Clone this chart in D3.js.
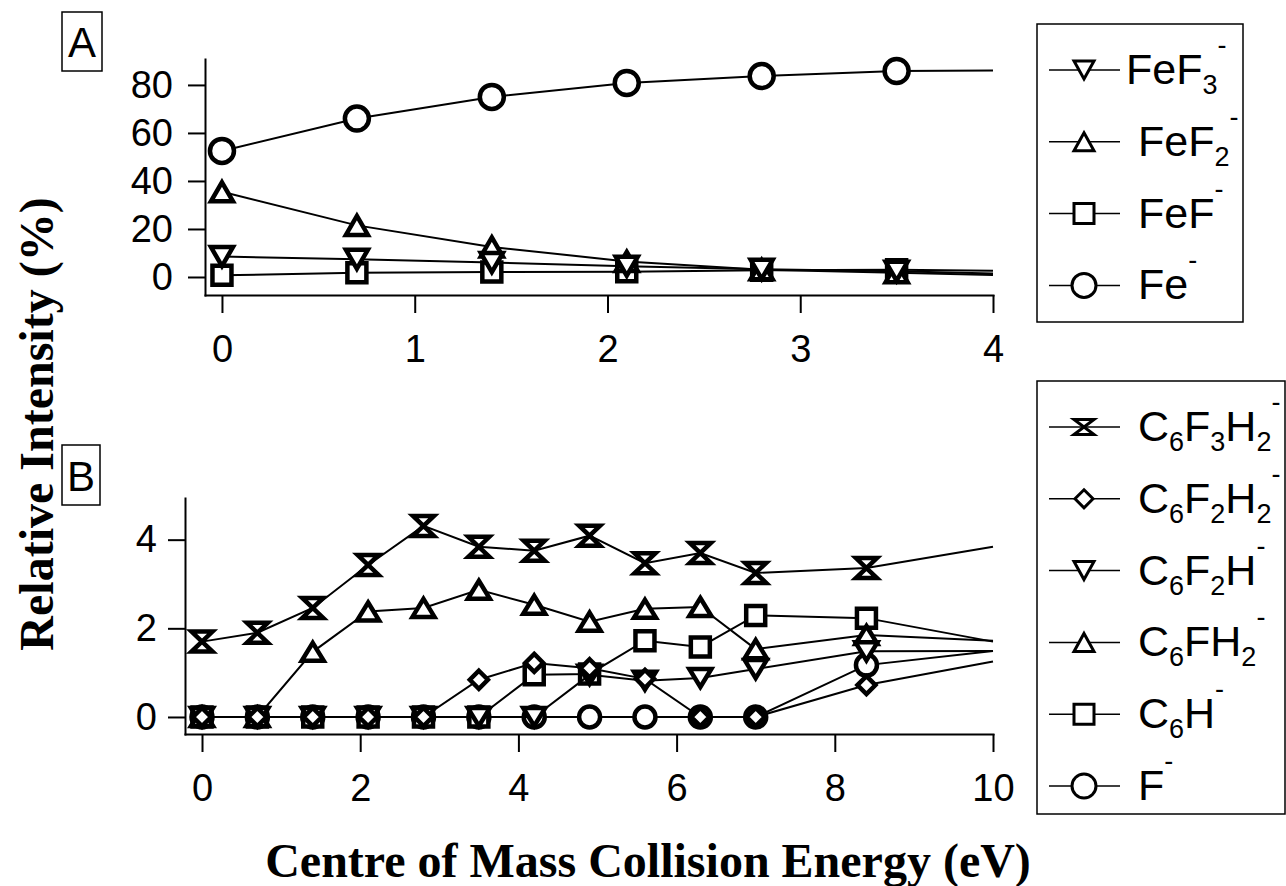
<!DOCTYPE html>
<html>
<head>
<meta charset="utf-8">
<script src="https://cdn.jsdelivr.net/npm/d3@7"></script>
<style>
    body { margin: 0; background: #fff; }
    svg { display: block; }
    .axis path, .axis line { stroke: #000; stroke-width: 2; }
    .axis text { font-family: "Liberation Sans", Arial, sans-serif; font-size: 38px; fill: #000; }
    .title { font-family: "Liberation Serif", "Times New Roman", serif; font-weight: bold; font-size: 48px; fill: #000; }
    .panel-label { font-family: "Liberation Sans", Arial, sans-serif; font-size: 42px; fill: #000; }
    .legend text { font-family: "Liberation Sans", Arial, sans-serif; font-size: 43px; fill: #000; white-space: pre; }
</style>
</head>
<body>
<script>
// panel A : iron anions (last value is where the line leaves the axis, no marker)
var energyA = [0, 0.7, 1.4, 2.1, 2.8, 3.5, 4];
var feMinus = [52.5, 66, 75, 80.8, 83.7, 85.8, 86];
var fefMinus = [0.7, 1.8, 2.1, 2.2, 2.8, 3.0, 2.6];
var fef2Minus = [35.5, 21.5, 12.5, 6.5, 3.0, 1.8, 0.8];
var fef3Minus = [8.5, 7.4, 6.0, 4.5, 3.2, 2.4, 1.5];

// panel B : fluorobenzene fragments
var energyB = [0, 0.7, 1.4, 2.1, 2.8, 3.5, 4.2, 4.9, 5.6, 6.3, 7.0, 8.4, 10];
var c6f3h2 = [1.70, 1.90, 2.46, 3.43, 4.31, 3.84, 3.75, 4.09, 3.47, 3.70, 3.25, 3.36, 3.84];
var c6f2h2 = [0, 0, 0, 0, 0, 0.84, 1.22, 1.10, 0.86, 0, 0, 0.72, 1.25];
var c6f2h = [0, 0, 0, 0, 0, 0, 0, 0.95, 0.82, 0.88, 1.08, 1.48, 1.49];
var c6fh2 = [0, 0, 1.47, 2.38, 2.46, 2.87, 2.53, 2.15, 2.44, 2.48, 1.53, 1.85, 1.72];
var c6h = [0, 0, 0, 0, 0, 0, 0.95, 0.97, 1.72, 1.58, 2.29, 2.23, 1.70];
var fMinus = [0, 0, 0, 0, 0, 0, 0, 0, 0, 0, 0, 1.17, 1.49];

var ticksAx = [0, 1, 2, 3, 4];
var ticksAy = [0, 20, 40, 60, 80];
var ticksBx = [0, 2, 4, 6, 8, 10];
var ticksBy = [0, 2, 4];

// "_" = subscript next char, "^" = superscript next char
var legendA = ["FeF_3^-", " FeF_2^-", " FeF^-", " Fe^-"];
var legendB = [" C_6F_3H_2^-", " C_6F_2H_2^-", " C_6F_2H^-", " C_6FH_2^-", " C_6H^-", " F^-"];

var seriesA = [
    { label: legendA[0], values: fef3Minus, marker: "triDown" },
    { label: legendA[1], values: fef2Minus, marker: "triUp" },
    { label: legendA[2], values: fefMinus, marker: "square" },
    { label: legendA[3], values: feMinus, marker: "circle" }
];
var seriesB = [
    { label: legendB[0], values: c6f3h2, marker: "hourglass" },
    { label: legendB[1], values: c6f2h2, marker: "diamond" },
    { label: legendB[2], values: c6f2h, marker: "triDown" },
    { label: legendB[3], values: c6fh2, marker: "triUp" },
    { label: legendB[4], values: c6h, marker: "square" },
    { label: legendB[5], values: fMinus, marker: "circle" }
];

var plotSize = { circle: 12, square: 9.5, tri: [11, 9.5], diamond: 9, hourglass: [10.5, 10] };
var plotSizeB = { circle: 10.5, square: 9.5, tri: [11, 9], diamond: 9, hourglass: [10.5, 10] };
var legendSize = { circle: 12, square: 10, tri: [10, 9], diamond: 9, hourglass: [10, 7.5] };

function markerPath(type, s) {
    if (type === "circle") {
        var r = s.circle;
        return "M" + (-r) + ",0A" + r + "," + r + " 0 1,0 " + r + ",0A" + r + "," + r + " 0 1,0 " + (-r) + ",0Z";
    }
    if (type === "square") {
        var h = s.square;
        return "M" + (-h) + "," + (-h) + "H" + h + "V" + h + "H" + (-h) + "Z";
    }
    if (type === "triUp") {
        return "M0," + (-s.tri[1]) + "L" + s.tri[0] + "," + s.tri[1] + "L" + (-s.tri[0]) + "," + s.tri[1] + "Z";
    }
    if (type === "triDown") {
        return "M0," + s.tri[1] + "L" + s.tri[0] + "," + (-s.tri[1]) + "L" + (-s.tri[0]) + "," + (-s.tri[1]) + "Z";
    }
    if (type === "diamond") {
        var d = s.diamond;
        return "M0," + (-d) + "L" + d + ",0L0," + d + "L" + (-d) + ",0Z";
    }
    // hourglass
    var w = s.hourglass[0], hh = s.hourglass[1];
    return "M" + (-w) + "," + (-hh) + "H" + w + "L" + (-w) + "," + hh + "H" + w + "Z";
}

var svg = d3.select("body").append("svg")
    .attr("width", 1286)
    .attr("height", 886);

function drawPanel(p) {
    var x = d3.scaleLinear().domain(p.xDomain).range(p.xRange);
    var y = d3.scaleLinear().domain(p.yDomain).range(p.yRange);

    svg.append("g")
        .attr("class", "axis")
        .attr("transform", "translate(0," + p.yRange[0] + ")")
        .call(d3.axisBottom(x).tickValues(p.xTicks).tickFormat(d3.format("d"))
            .tickSize(18).tickSizeOuter(0).tickPadding(22));

    svg.append("g")
        .attr("class", "axis")
        .attr("transform", "translate(" + p.xRange[0] + ",0)")
        .call(d3.axisLeft(y).tickValues(p.yTicks).tickFormat(d3.format("d"))
            .tickSize(17).tickSizeOuter(0).tickPadding(p.yPad));

    svg.selectAll(".axis .domain").attr("stroke-linecap", "square");

    var line = d3.line()
        .x(function (d) { return x(d.x); })
        .y(function (d) { return y(d.y); });

    // draw in reverse legend order so the first legend trace sits on top
    p.series.slice().reverse().forEach(function (s) {
        var pts = p.energy.map(function (e, i) { return { x: e, y: s.values[i] }; });
        var g = svg.append("g");
        g.append("path")
            .datum(pts)
            .attr("fill", "none")
            .attr("stroke", "#000")
            .attr("stroke-width", 2)
            .attr("d", line);
        g.selectAll("path.mk")
            .data(pts.filter(function (d) { return d.x < p.xDomain[1]; }))
            .enter()
            .append("path")
            .attr("class", "mk")
            .attr("transform", function (d) { return "translate(" + x(d.x) + "," + y(d.y) + ")"; })
            .attr("d", markerPath(s.marker, p.size))
            .attr("fill", "#fff")
            .attr("stroke", "#000")
            .attr("stroke-width", 4.5);
    });
}

drawPanel({
    energy: energyA, series: seriesA, size: plotSize,
    xDomain: [-0.088, 4], xRange: [205, 993],
    yDomain: [-7.5, 90.8], yRange: [295, 59],
    xTicks: ticksAx, yTicks: ticksAy, yPad: 15
});

drawPanel({
    energy: energyB, series: seriesB, size: plotSizeB,
    xDomain: [-0.215, 10], xRange: [185, 993],
    yDomain: [-0.384, 4.94], yRange: [734, 498],
    xTicks: ticksBx, yTicks: ticksBy, yPad: 11
});

// panel labels
[{ t: "A", x: 62, y: 12, w: 40, h: 59 }, { t: "B", x: 62, y: 445, w: 38, h: 60 }].forEach(function (b) {
    svg.append("rect")
        .attr("x", b.x).attr("y", b.y).attr("width", b.w).attr("height", b.h)
        .attr("fill", "none").attr("stroke", "#000").attr("stroke-width", 1.5);
    svg.append("text")
        .attr("class", "panel-label")
        .attr("x", b.x + b.w / 2)
        .attr("y", b.y + b.h - 14)
        .attr("text-anchor", "middle")
        .text(b.t);
});

// axis titles
svg.append("text")
    .attr("class", "title")
    .attr("transform", "translate(53,424) rotate(-90)")
    .attr("text-anchor", "middle")
    .text("Relative Intensity (%)");

svg.append("text")
    .attr("class", "title")
    .attr("x", 648)
    .attr("y", 877)
    .attr("text-anchor", "middle")
    .text("Centre of Mass Collision Energy (eV)");

function addLabel(sel, label, baseY) {
    var parts = [];
    for (var i = 0; i < label.length; i++) {
        var c = label[i], kind = "n";
        if (c === "_" || c === "^") { kind = c === "_" ? "sub" : "sup"; c = label[++i]; }
        if (parts.length && parts[parts.length - 1].kind === kind) parts[parts.length - 1].text += c;
        else parts.push({ kind: kind, text: c });
    }
    parts.forEach(function (pt) {
        var ts = sel.append("tspan").text(pt.text);
        if (pt.kind === "sub") ts.attr("y", baseY + 10).style("font-size", "27px");
        else if (pt.kind === "sup") ts.attr("y", baseY - 30).style("font-size", "27px");
        else ts.attr("y", baseY);
    });
}

function drawLegend(series, box, firstY) {
    var g = svg.append("g").attr("class", "legend");
    g.append("rect")
        .attr("x", box[0]).attr("y", box[1]).attr("width", box[2]).attr("height", box[3])
        .attr("fill", "#fff").attr("stroke", "#000").attr("stroke-width", 1.5);
    series.forEach(function (s, i) {
        var ry = firstY + i * 71.8;
        g.append("line")
            .attr("x1", 1049).attr("x2", 1120).attr("y1", ry).attr("y2", ry)
            .attr("stroke", "#000").attr("stroke-width", 1.5);
        g.append("path")
            .attr("transform", "translate(1084," + ry + ")")
            .attr("d", markerPath(s.marker, legendSize))
            .attr("fill", "#fff").attr("stroke", "#000").attr("stroke-width", 3);
        var t = g.append("text").attr("x", 1126).attr("y", ry + 14);
        addLabel(t, s.label, ry + 14);
    });
}

drawLegend(seriesA, [1037, 24, 206, 298], 70);
drawLegend(seriesB, [1037, 381, 248, 433], 427);
</script>
</body>
</html>
